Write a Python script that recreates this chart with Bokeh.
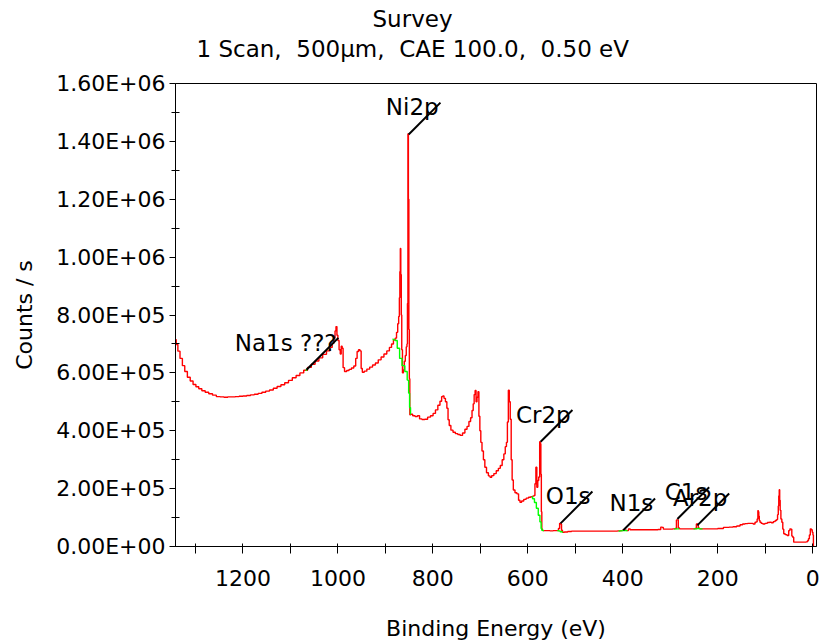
import math
from bokeh.plotting import figure
from bokeh.models import Range1d, FixedTicker, Title
from bokeh.core.properties import value
from bokeh.embed import file_html
from bokeh.resources import INLINE

# ---------------- texts ----------------
title_text = "Survey"
subtitle_text = "1 Scan,\u00a0 500µm,\u00a0 CAE 100.0,\u00a0 0.50 eV"
x_label = "Binding Energy (eV)"
y_label = "Counts / s"

# ---------------- spectrum (binding energy, counts/s) ----------------
energy_ev = [
    1342, 1339, 1335, 1330, 1325, 1320, 1314, 1308, 1302, 1296,
    1290, 1283, 1276, 1268, 1260, 1252, 1244, 1236, 1228, 1220,
    1212, 1204, 1196, 1188, 1180, 1172, 1164, 1156, 1148, 1140,
    1132, 1124, 1116, 1108, 1100, 1092, 1084, 1076, 1068, 1060,
    1052, 1044, 1036, 1028, 1020, 1014, 1010, 1007, 1005, 1003,
    1001, 999, 996, 994, 992, 990, 988, 984, 979, 974,
    969, 964, 961, 958, 955, 952, 950, 947, 942, 936,
    930, 924, 918, 912, 906, 900, 894, 889, 885, 881,
    878, 875, 873, 871, 870, 869, 868, 867, 866, 865,
    863, 861, 859, 857, 855, 854, 853, 852, 851, 850,
    849, 848, 845, 840, 835, 830, 826, 820, 814, 808,
    802, 797, 792, 787, 783, 780, 778, 775, 772, 769,
    767, 764, 760, 755, 750, 745, 740, 735, 730, 726,
    722, 719, 716, 714, 712, 710, 708, 706, 704, 702,
    700, 698, 695, 692, 689, 685, 681, 678, 674, 669,
    664, 660, 656, 652, 649, 646, 644, 642, 640, 638,
    636, 634, 632, 629, 625, 621, 618, 615, 611, 606,
    601, 596, 592, 588, 586, 584, 582, 580, 578, 576,
    574, 573, 572, 571, 570, 568, 563, 557, 550, 543,
    537, 534, 532, 530, 528, 526, 520, 512, 504, 495,
    485, 475, 465, 455, 445, 435, 425, 415, 407, 402,
    398, 394, 390, 386, 383, 378, 370, 360, 350, 340,
    330, 322, 318, 316, 313, 305, 298, 292, 288, 286,
    284, 282, 279, 272, 264, 256, 250, 246, 244, 242,
    240, 236, 228, 220, 212, 204, 196, 190, 186, 180,
    172, 164, 156, 150, 145, 140, 134, 128, 123, 120,
    118, 116, 115, 114, 113, 112, 110, 107, 103, 98,
    93, 89, 85, 81, 77, 75, 73, 72, 71, 70,
    69, 68, 66, 64, 62, 60, 56, 52, 49, 47,
    45, 43, 41, 39, 34, 28, 22, 16, 12, 10,
    8, 6, 4, 2, 0, -1, -2,
]
counts = [
    7.15e5, 6.98e5, 6.75e5, 6.50e5, 6.25e5, 6.05e5, 5.85e5, 5.72e5, 5.60e5, 5.52e5,
    5.45e5, 5.38e5, 5.33e5, 5.28e5, 5.23e5, 5.18e5, 5.17e5, 5.16e5, 5.17e5, 5.17e5,
    5.18e5, 5.19e5, 5.20e5, 5.22e5, 5.24e5, 5.26e5, 5.29e5, 5.33e5, 5.37e5, 5.41e5,
    5.47e5, 5.53e5, 5.59e5, 5.66e5, 5.74e5, 5.83e5, 5.91e5, 6.00e5, 6.09e5, 6.19e5,
    6.30e5, 6.41e5, 6.52e5, 6.64e5, 6.76e5, 6.88e5, 7.02e5, 7.20e5, 7.45e5, 7.60e5,
    7.30e5, 7.12e5, 6.80e5, 6.65e5, 6.92e5, 6.85e5, 6.18e5, 6.05e5, 6.08e5, 6.12e5,
    6.17e5, 6.24e5, 6.50e5, 6.74e5, 6.80e5, 6.76e5, 6.15e5, 6.02e5, 6.06e5, 6.13e5,
    6.20e5, 6.27e5, 6.34e5, 6.45e5, 6.55e5, 6.65e5, 6.76e5, 6.88e5, 7.00e5, 7.14e5,
    7.20e5, 7.40e5, 7.70e5, 7.95e5, 8.60e5, 9.50e5, 1.030e6, 9.40e5, 8.00e5, 6.80e5,
    6.00e5, 6.10e5, 6.40e5, 6.60e5, 6.90e5, 7.00e5, 8.40e5, 1.426e6, 1.200e6, 7.50e5,
    5.80e5, 4.55e5, 4.57e5, 4.52e5, 4.49e5, 4.52e5, 4.41e5, 4.39e5, 4.40e5, 4.47e5,
    4.52e5, 4.60e5, 4.72e5, 4.88e5, 5.02e5, 5.18e5, 5.20e5, 5.12e5, 5.00e5, 4.78e5,
    4.38e5, 4.18e5, 4.02e5, 3.95e5, 3.90e5, 3.87e5, 3.84e5, 3.92e5, 4.05e5, 4.15e5,
    4.32e5, 4.45e5, 4.70e5, 4.93e5, 5.25e5, 5.39e5, 5.00e5, 5.16e5, 5.35e5, 4.50e5,
    4.00e5, 3.60e5, 3.30e5, 3.00e5, 2.74e5, 2.55e5, 2.44e5, 2.39e5, 2.45e5, 2.52e5,
    2.62e5, 2.70e5, 2.80e5, 3.00e5, 3.20e5, 3.45e5, 3.60e5, 4.30e5, 5.40e5, 5.00e5,
    4.40e5, 3.00e5, 2.30e5, 1.95e5, 1.86e5, 1.82e5, 1.60e5, 1.53e5, 1.57e5, 1.63e5,
    1.67e5, 1.70e5, 1.72e5, 1.74e5, 1.76e5, 2.17e5, 2.74e5, 2.05e5, 2.28e5, 2.40e5,
    3.62e5, 3.55e5, 2.50e5, 1.20e5, 0.60e5, 0.55e5, 0.55e5, 0.55e5, 0.54e5, 0.55e5,
    0.55e5, 0.62e5, 0.80e5, 0.78e5, 0.56e5, 0.49e5, 0.50e5, 0.52e5, 0.53e5, 0.53e5,
    0.53e5, 0.53e5, 0.53e5, 0.53e5, 0.53e5, 0.53e5, 0.53e5, 0.53e5, 0.54e5, 0.55e5,
    0.57e5, 0.56e5, 0.55e5, 0.61e5, 0.58e5, 0.58e5, 0.58e5, 0.58e5, 0.58e5, 0.58e5,
    0.58e5, 0.59e5, 0.67e5, 0.66e5, 0.60e5, 0.60e5, 0.60e5, 0.61e5, 0.62e5, 0.92e5,
    0.92e5, 0.64e5, 0.61e5, 0.61e5, 0.61e5, 0.61e5, 0.61e5, 0.62e5, 0.78e5, 0.78e5,
    0.63e5, 0.61e5, 0.61e5, 0.61e5, 0.61e5, 0.61e5, 0.62e5, 0.62e5, 0.66e5, 0.66e5,
    0.67e5, 0.68e5, 0.71e5, 0.75e5, 0.78e5, 0.79e5, 0.80e5, 0.80e5, 0.78e5, 0.84e5,
    0.85e5, 0.95e5, 1.24e5, 1.20e5, 1.05e5, 0.90e5, 0.84e5, 0.80e5, 0.78e5, 0.80e5,
    0.83e5, 0.84e5, 0.82e5, 0.86e5, 0.90e5, 0.93e5, 1.10e5, 1.40e5, 1.75e5, 1.96e5,
    1.60e5, 1.25e5, 0.95e5, 0.84e5, 0.60e5, 0.44e5, 0.41e5, 0.38e5, 0.55e5, 0.61e5,
    0.60e5, 0.36e5, 0.32e5, 0.15e5, 0.15e5, 0.15e5, 0.15e5, 0.15e5, 0.16e5, 0.20e5,
    0.27e5, 0.40e5, 0.61e5, 0.58e5, 0.49e5, 0.40e5, 0.0,
]

# ---------------- fitted backgrounds (green) ----------------
bg_na_ev = [1068, 1064]
bg_na_counts = [6.09e5, 6.13e5]
bg_ni_ev = [885, 881, 878, 872, 868, 862, 856, 852, 850, 848, 846]
bg_ni_counts = [7.16e5, 7.14e5, 7.12e5, 6.85e5, 6.50e5, 6.25e5, 6.05e5, 5.75e5, 5.30e5, 4.80e5, 4.58e5]
bg_cr_ev = [592, 588, 584, 580, 576, 573, 571, 570, 566]
bg_cr_counts = [1.72e5, 1.65e5, 1.52e5, 1.32e5, 1.08e5, 0.85e5, 0.62e5, 0.56e5, 0.55e5]
bg_o_ev = [538, 534, 530, 526]
bg_o_counts = [0.55e5, 0.54e5, 0.51e5, 0.50e5]
bg_n_ev = [409, 404, 399, 394, 390]
bg_n_counts = [0.53e5, 0.54e5, 0.55e5, 0.55e5, 0.55e5]
bg_c_ev = [292, 288, 284, 281]
bg_c_counts = [0.61e5, 0.61e5, 0.61e5, 0.61e5]
bg_ar_ev = [251, 246, 241, 236, 232]
bg_ar_counts = [0.61e5, 0.61e5, 0.62e5, 0.61e5, 0.61e5]

# ---------------- peak labels ----------------
peak_names = ["Na1s ???", "Ni2p", "Cr2p", "O1s", "N1s", "C1s", "Ar2p"]
peak_ev = [1066, 851, 573, 531, 399, 285, 243]
peak_counts = [6.11e5, 1.424e6, 3.62e5, 0.80e5, 0.56e5, 0.95e5, 0.73e5]

# ---------------- ticks ----------------
x_major_ticks = [1200, 1000, 800, 600, 400, 200, 0]
x_minor_ticks = [1300, 1100, 900, 700, 500, 300, 100]
y_major_ticks = [0, 200000, 400000, 600000, 800000, 1000000, 1200000, 1400000, 1600000]
y_tick_labels = ["0.00E+00", "2.00E+05", "4.00E+05", "6.00E+05", "8.00E+05",
                 "1.00E+06", "1.20E+06", "1.40E+06", "1.60E+06"]
y_minor_ticks = [100000, 300000, 500000, 700000, 900000, 1100000, 1300000, 1500000]

FONT = "DejaVu Sans"
FS = "22px"

p = figure(width=825, height=644,
           x_range=Range1d(1342, -8), y_range=Range1d(0, 1.6e6),
           output_backend="svg", toolbar_location=None, title=None,
           min_border_left=175, min_border_right=9,
           min_border_top=83, min_border_bottom=98)
p.background_fill_color = "white"
p.border_fill_color = "white"
p.outline_line_color = "black"
p.outline_line_width = 1
p.xgrid.visible = False
p.ygrid.visible = False

# spectrum
p.step(energy_ev, counts, mode="center", line_color="#ff0000", line_width=1.4)
for ev, ct in [(bg_na_ev, bg_na_counts), (bg_ni_ev, bg_ni_counts), (bg_cr_ev, bg_cr_counts),
               (bg_o_ev, bg_o_counts), (bg_n_ev, bg_n_counts), (bg_c_ev, bg_c_counts),
               (bg_ar_ev, bg_ar_counts)]:
    p.step(ev, ct, mode="center", line_color="#00ff00", line_width=1.4)

# peak markers
p.ray(x=peak_ev, y=peak_counts, length=45, length_units="screen", angle=math.pi / 4,
      line_color="black", line_width=2)
p.text(x=peak_ev, y=peak_counts, text=peak_names, x_offset=30, y_offset=-27,
       text_align="right", text_baseline="alphabetic",
       text_font=value(FONT), text_font_size="23px", text_color="black")

# axes
xa = p.xaxis[0]
xa.ticker = FixedTicker(ticks=x_major_ticks, minor_ticks=x_minor_ticks)
xa.axis_label = x_label
xa.axis_label_text_font = FONT
xa.axis_label_text_font_size = FS
xa.axis_label_text_font_style = "normal"
xa.axis_label_text_color = "black"
xa.axis_label_standoff = 27
xa.major_label_text_font = FONT
xa.major_label_text_font_size = FS
xa.major_label_text_color = "black"
xa.major_label_standoff = 16
xa.major_tick_in = 3
xa.major_tick_out = 7
xa.minor_tick_in = 3
xa.minor_tick_out = 7
xa.axis_line_color = "black"
xa.major_tick_line_color = "black"
xa.minor_tick_line_color = "black"

ya = p.yaxis[0]
ya.ticker = FixedTicker(ticks=y_major_ticks, minor_ticks=y_minor_ticks)
ya.major_label_overrides = {t: lab for t, lab in zip(y_major_ticks, y_tick_labels)}
ya.axis_label = y_label
ya.axis_label_text_font = FONT
ya.axis_label_text_font_size = FS
ya.axis_label_text_font_style = "normal"
ya.axis_label_text_color = "black"
ya.axis_label_standoff = 16
ya.major_label_text_font = FONT
ya.major_label_text_font_size = FS
ya.major_label_text_color = "black"
ya.major_label_standoff = 4
ya.major_tick_in = 0
ya.major_tick_out = 6
ya.minor_tick_in = 4
ya.minor_tick_out = 4
ya.axis_line_color = "black"
ya.major_tick_line_color = "black"
ya.minor_tick_line_color = "black"

# titles: first added sits next to the frame, the next one above it
p.add_layout(Title(text=subtitle_text, align="left", offset=21, standoff=44,
                   vertical_align="bottom", text_font=FONT, text_font_size="23px",
                   text_font_style="normal", text_color="black"), "above")
p.add_layout(Title(text=title_text, align="left", offset=197, standoff=-40,
                   vertical_align="bottom", text_font=FONT, text_font_size="23px",
                   text_font_style="normal", text_color="black"), "above")

open("out.html", "w").write(file_html(p, INLINE))
